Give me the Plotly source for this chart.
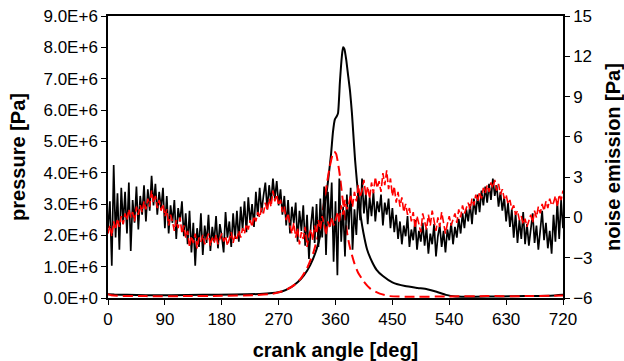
import plotly.graph_objects as go

# ---------------- data ----------------
# noise emission sampled every 3 deg (0..720)
noise_step = 3
noise_black = [
    -0.8, 1.2, -3.6, 3.9, -1.5, 1.8, -2.4, 2.2, -0.5, 1.9,
    -1.2, 2.6, -2.5, 1.3, -0.4, 2.3, -0.9, 1.6, 0.2, 2.4,
    -0.3, 2.1, 0.5, 3.1, 0.9, 2.5, 0.2, 1.9, 0.6, 2.2,
    -0.8, 1.6, -1.2, 0.9, -0.4, 1.3, -1.6, 0.7, -0.3, 1.2,
    -1.4, 0.3, -2.0, 0.5, -2.6, -0.4, -3.6, -0.8, -2.2, 0.3,
    -2.8, -0.6, -1.9, 0.2, -2.5, -0.7, -1.8, 0.1, -2.3, -0.5,
    -1.4, -2.6, 0.4, -1.5, -0.3, -2.2, 0.3, -1.6, 0.5, -1.8,
    0.8, -0.9, 1.2, -1.1, 1.5, -0.4, 1.0, -0.7, 1.9, 0.1,
    2.2, 0.4, 1.6, 2.6, 0.6, 2.4, 1.1, 2.9, 1.4, 2.7,
    0.9, 2.1, 0.2, 1.6, -0.6, 1.3, -1.2, 0.8, -0.4, 1.1,
    -1.8, 0.5, -1.0, 0.9, -2.1, 0.2, -3.1, -0.6, 0.8, -1.9,
    1.0, -2.2, 1.4, -1.5, 2.3, -2.8, 1.9, -0.7, 2.6, -3.3,
    1.2, -4.3, 2.9, -1.8, 0.8, -2.9, 1.7, -0.9, 2.2, -2.4,
    0.6, -1.3, 1.9, -0.2, 2.9, 0.3, 1.8, -0.5, 1.5, 0.1,
    1.9, -0.3, 1.2, 0.4, 1.7, -0.6, 1.1, 0.2, 1.4, -0.8,
    0.7, -1.1, 0.2, -1.6, -0.3, -2.0, -0.6, -1.4, 0.1, -2.2,
    -0.9, -1.7, -0.2, -2.4, -1.0, -1.8, -0.4, -2.1, -0.8, -2.7,
    -1.2, -2.0, -0.5, -2.9, -1.4, -0.6, -2.2, -1.0, -2.6, -0.9,
    -1.7, -0.4, -2.0, -0.7, -1.5, -0.1, -1.2, 0.3, -0.8, 0.6,
    -0.3, 1.0, -0.5, 1.4, 0.2, 1.7, 0.4, 2.0, 0.9, 2.3,
    1.1, 2.5, 1.3, 2.9, 1.6, 2.4, 0.8, 1.9, 0.5, 1.5,
    -0.3, 1.1, -0.7, 0.6, -1.5, 0.3, -1.9, -0.2, -1.6, 0.4,
    -2.0, -0.5, -2.1, -0.8, 0.3, -1.9, -0.6, -2.4, -0.9, 0.5,
    -1.7, -0.4, -2.3, -1.0, -2.7, 0.2, -1.8, 1.2, -1.6, 1.3,
    -0.8,
]
noise_red = [
    -1.2, -0.6, -1.4, -0.3, -0.9, -0.1, -0.7, 0.1, -0.5, 0.3,
    -0.2, 0.6, 0.0, 0.4, -0.3, 0.8, 0.2, 0.9, 0.4, 1.2,
    0.6, 1.4, 0.8, 2.0, 1.1, 1.6, 0.7, 1.3, 0.5, 1.0,
    0.1, 0.6, -0.6, 0.2, -0.3, -1.0, -0.2, -0.8, 0.0, -1.2,
    -0.6, -1.5, -1.0, -2.2, -1.4, -1.9, -1.2, -2.3, -1.5, -1.8,
    -1.3, -2.0, -1.6, -1.2, -2.1, -1.5, -1.9, -1.3, -2.0, -1.6,
    -1.2, -1.8, -1.4, -2.1, -1.5, -1.1, -1.9, -1.3, -1.6, -1.0,
    -1.5, -0.8, -1.2, -0.5, -0.9, -0.2, -0.7, 0.1, -0.3, 0.4,
    0.0, 0.7, 0.3, 1.1, 0.5, 1.4, 0.8, 2.0, 1.2, 1.7,
    0.9, 1.3, 0.4, 0.8, -0.2, 0.3, -0.6, -1.2, -0.4, -1.5,
    -0.8, -2.0, -1.1, -1.6, -0.7, -2.2, -1.3, -0.9, -1.7, -0.6,
    -1.2, -0.2, -0.9, 0.1, -0.5, -1.3, -0.3, -0.8, 0.0, -0.6,
    -0.2, 0.4, -0.4, 0.9, 0.2, 1.3, 0.6, 1.0, 1.7, 0.8,
    1.9, 1.2, 2.4, 1.5, 2.0, 2.8, 1.6, 2.3, 1.4, 2.6,
    1.8, 3.0, 2.2, 2.7, 1.9, 3.3, 2.4, 3.5, 2.1, 2.9,
    1.6, 2.3, 1.1, 1.9, 0.8, 1.5, 0.4, 1.0, 0.2, 0.7,
    -0.3, 0.4, -0.8, 0.1, -0.5, -1.1, 0.3, -0.4, -0.9, 0.2,
    -0.6, 0.5, -0.2, -1.0, 0.0, -0.7, 0.4, -0.3, -1.2, -0.5,
    0.1, -0.6, -0.1, 0.3, -0.4, 0.6, 0.0, 0.9, 0.3, 0.7,
    1.1, 0.6, 1.4, 0.9, 1.7, 1.2, 1.9, 1.4, 2.2, 1.8,
    2.4, 1.9, 2.6, 2.2, 2.8, 2.0, 2.5, 1.7, 2.1, 1.4,
    1.7, 1.0, 1.3, 0.6, 0.9, 0.2, 0.5, -0.2, 0.1, -0.5,
    -0.1, -0.7, -0.3, 0.2, -0.4, 0.5, 0.0, 0.8, 0.3, 1.0,
    0.5, 1.2, 0.7, 1.4, 0.9, 1.1, 1.6, 0.8, 1.7, 1.3,
    2.0,
]

# cylinder pressure [Pa]
p_black_angle = [0, 10, 30, 60, 100, 150, 200, 240, 260, 275, 290, 300, 310, 320,
                 330, 337, 343, 348, 353, 356, 359, 362, 364, 367, 370, 372, 374,
                 377, 380, 383, 386, 388, 391, 394, 397, 400, 404, 410, 418, 425,
                 435, 450, 470, 490, 505, 520, 535, 550, 580, 620, 660, 700, 720]
p_black = [0.12e6, 0.11e6, 0.10e6, 0.09e6, 0.09e6, 0.10e6, 0.11e6, 0.13e6, 0.16e6,
           0.21e6, 0.35e6, 0.50e6, 0.72e6, 1.05e6, 1.55e6, 2.1e6, 2.9e6, 3.7e6,
           4.6e6, 5.3e6, 5.7e6, 5.8e6, 5.9e6, 6.9e6, 7.7e6, 8.0e6, 7.95e6, 7.6e6,
           7.1e6, 6.6e6, 5.9e6, 5.3e6, 4.4e6, 3.7e6, 3.1e6, 2.6e6, 2.1e6, 1.55e6,
           1.15e6, 0.9e6, 0.7e6, 0.5e6, 0.38e6, 0.32e6, 0.28e6, 0.20e6, 0.10e6,
           0.05e6, 0.04e6, 0.05e6, 0.06e6, 0.07e6, 0.10e6]
p_red_angle = [0, 5, 15, 60, 120, 180, 230, 260, 280, 295, 305, 315, 325, 333, 340,
               346, 351, 355, 358, 361, 364, 367, 371, 375, 379, 383, 390, 396, 405,
               415, 430, 446, 480, 540, 600, 660, 720]
p_red = [0.12e6, 0.09e6, 0.07e6, 0.06e6, 0.06e6, 0.07e6, 0.09e6, 0.13e6, 0.24e6,
         0.42e6, 0.62e6, 0.95e6, 1.45e6, 2.05e6, 2.8e6, 3.6e6, 4.2e6, 4.55e6,
         4.67e6, 4.6e6, 4.3e6, 3.9e6, 3.2e6, 2.6e6, 2.0e6, 1.6e6, 1.1e6, 0.8e6,
         0.52e6, 0.3e6, 0.14e6, 0.06e6, 0.04e6, 0.05e6, 0.06e6, 0.06e6, 0.08e6]

x_ticks = [0, 90, 180, 270, 360, 450, 540, 630, 720]
p_ticks = [0, 1e6, 2e6, 3e6, 4e6, 5e6, 6e6, 7e6, 8e6, 9e6]
p_tick_labels = ["0.0E+0", "1.0E+6", "2.0E+6", "3.0E+6", "4.0E+6",
                 "5.0E+6", "6.0E+6", "7.0E+6", "8.0E+6", "9.0E+6"]
n_ticks = [-6, -3, 0, 3, 6, 9, 12, 15]

noise_angle_black = [noise_step * i for i in range(len(noise_black))]
noise_angle_red = [noise_step * i for i in range(len(noise_red))]

# ---------------- figure ----------------
fig = go.Figure()
fig.add_trace(go.Scatter(x=p_black_angle, y=p_black, mode="lines",
                         line=dict(color="#000000", width=2, shape="spline", smoothing=0.5),
                         yaxis="y", showlegend=False))
fig.add_trace(go.Scatter(x=p_red_angle, y=p_red, mode="lines",
                         line=dict(color="#FF0000", width=2, dash="10px,5px",
                                   shape="spline", smoothing=0.5),
                         yaxis="y", showlegend=False))
fig.add_trace(go.Scatter(x=noise_angle_black, y=noise_black, mode="lines",
                         line=dict(color="#000000", width=1.7),
                         yaxis="y2", showlegend=False))
fig.add_trace(go.Scatter(x=noise_angle_red, y=noise_red, mode="lines",
                         line=dict(color="#FF0000", width=1.6, dash="8px,3px"),
                         yaxis="y2", showlegend=False))

tick_font = dict(family="Liberation Sans, Arial, sans-serif", size=17, color="#000000")
title_font = dict(family="Liberation Sans, Arial, sans-serif", size=20, color="#000000")

fig.update_layout(
    width=624, height=361,
    margin=dict(l=108, r=61, t=16, b=63, autoexpand=False),
    paper_bgcolor="white", plot_bgcolor="white",
    font=tick_font,
    xaxis=dict(range=[0, 720], tickvals=x_ticks, ticks="outside", ticklen=5,
               tickcolor="black", showline=True, linecolor="black", linewidth=1.5,
               mirror=True, showgrid=False, zeroline=False, tickfont=tick_font,
               automargin=False,
               title=dict(text="<b>crank angle [deg]</b>", font=title_font, standoff=15)),
    yaxis=dict(range=[0, 9e6], tickvals=p_ticks, ticktext=p_tick_labels,
               ticks="outside", ticklen=5, tickcolor="black", showline=True,
               linecolor="black", linewidth=1.5, showgrid=False, zeroline=False,
               tickfont=tick_font, automargin=False,
               title=dict(text="<b>pressure [Pa]</b>", font=title_font, standoff=12)),
    yaxis2=dict(range=[-6, 15], tickvals=n_ticks, overlaying="y", side="right",
                ticks="outside", ticklen=5, tickcolor="black", showline=True,
                linecolor="black", linewidth=1.5, showgrid=False, zeroline=False,
                tickfont=tick_font, automargin=False,
                title=dict(text="<b>noise emission [Pa]</b>", font=title_font, standoff=14)),
)

fig.write_html(
    "out.html",
    config={"displayModeBar": False},
    post_script=("document.documentElement.style.margin='0';"
                 "document.documentElement.style.overflow='hidden';"
                 "document.body.style.margin='0';"
                 "document.body.style.overflow='hidden';"),
)
